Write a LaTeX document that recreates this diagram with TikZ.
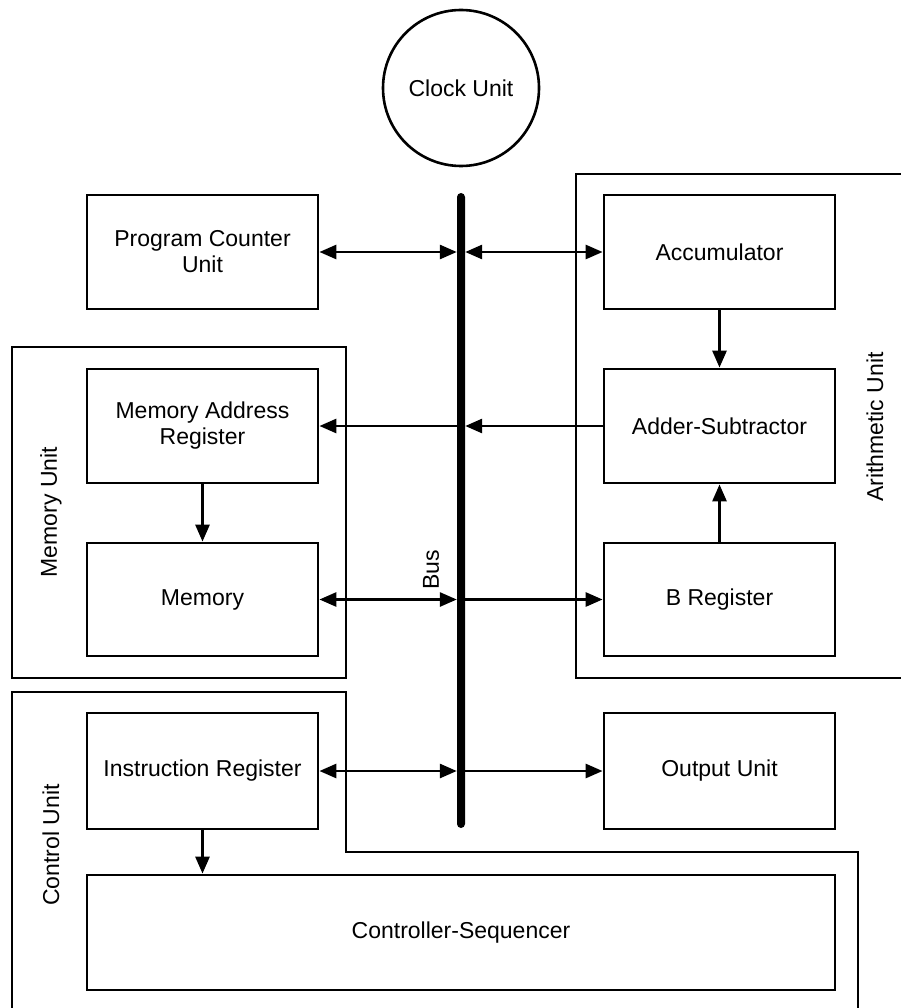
\documentclass[tikz,border=0pt]{standalone}
\usepackage{fontspec}
\setmainfont{Liberation Sans}
\usetikzlibrary{arrows.meta}
\begin{document}
\begin{tikzpicture}[x=1pt,y=-1pt,
  every node/.style={font=\fontsize{23}{26}\selectfont, text=black},
  box/.style={draw, line width=2.8pt, minimum width=231pt, align=center, inner sep=0pt},
  outline/.style={draw, line width=2.8pt},
  conn/.style={line width=2.8pt, arrows={-Triangle[length=17pt,width=14pt]}},
  biconn/.style={line width=2.8pt, arrows={Triangle[length=17pt,width=14pt]-Triangle[length=17pt,width=14pt]}},
  grp/.style={rotate=90, inner sep=0pt}
]
\useasboundingbox (0,0) rectangle (900,1008);
\fill[white] (0,0) rectangle (900,1008);

% group outlines
\draw[outline] (576,174) rectangle (910,678);
\draw[outline] (12,347) rectangle (346,678);
\draw[outline] (12,1020) -- (12,692) -- (346,692) -- (346,852) -- (858,852) -- (858,1020);

% clock
\node[circle, draw, line width=2.6pt, minimum size=156pt, inner sep=0pt] (clock) at (461,88) {Clock Unit};

% bus
\node[fill=black, minimum width=8pt, minimum height=635pt, rounded corners=4pt, inner sep=0pt] (bus) at (461,510.5) {};
\node[grp] (buslbl) at (431,570) {Bus};

% boxes
\node[box, minimum height=114pt] (pc) at (202.5,252) {Program Counter\\Unit};
\node[box, minimum height=114pt] (acc) at (719.5,252) {Accumulator};
\node[box, minimum height=114pt] (mar) at (202.5,426) {Memory Address\\Register};
\node[box, minimum height=114pt] (add) at (719.5,426) {Adder-Subtractor};
\node[box, minimum height=113pt] (mem) at (202.5,599.5) {Memory};
\node[box, minimum height=113pt] (breg) at (719.5,599.5) {B Register};
\node[box, minimum height=116pt] (ir) at (202.5,771) {Instruction Register};
\node[box, minimum height=116pt] (out) at (719.5,771) {Output Unit};
\node[box, minimum width=748pt, minimum height=115pt] (cs) at (461,932.5) {Controller-Sequencer};

% group labels
\node[grp] (arlbl) at (875,427) {Arithmetic Unit};
\node[grp] (memlbl) at (51,512) {Memory Unit};
\node[grp] (ctllbl) at (51,845) {Control Unit};

% connectors
\draw[biconn] (pc.east) -- (pc.east -| bus.west);
\draw[biconn] (acc.west -| bus.east) -- (acc.west);
\draw[conn] (add.west) -- (add.west -| bus.east);
\draw[conn] (mar.east -| bus.west) -- (mar.east);
\draw[biconn] (mem.east) -- (mem.east -| bus.west);
\draw[conn] (breg.west -| bus.east) -- (breg.west);
\draw[biconn] (ir.east) -- (ir.east -| bus.west);
\draw[conn] (out.west -| bus.east) -- (out.west);
\draw[conn] (acc.south) -- (add.north);
\draw[conn] (breg.north) -- (add.south);
\draw[conn] (mar.south) -- (mem.north);
\draw[conn] (ir.south) -- (ir.south |- cs.north);
\end{tikzpicture}
\end{document}
